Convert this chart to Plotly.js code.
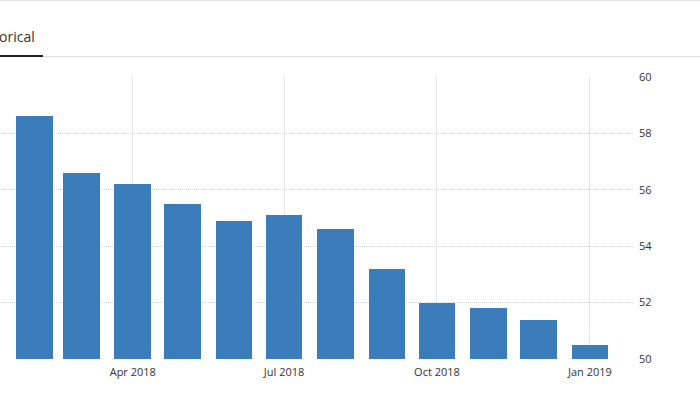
<!DOCTYPE html>
<html>
<head>
<meta charset="utf-8">
<script src="https://cdn.plot.ly/plotly-3.0.1.min.js"></script>
<style>
html,body{margin:0;padding:0;background:#fff;overflow:hidden;}
#chart{width:700px;height:394px;}
</style>
</head>
<body>
<div id="chart"></div>
<script>
var months = ['2018-02-01','2018-03-01','2018-04-01','2018-05-01','2018-06-01','2018-07-01',
              '2018-08-01','2018-09-01','2018-10-01','2018-11-01','2018-12-01','2019-01-01'];
var values = [58.6, 56.6, 56.2, 55.5, 54.9, 55.1, 54.6, 53.2, 52.0, 51.8, 51.4, 50.5];
var tickVals = ['2018-04-01','2018-07-01','2018-10-01','2019-01-01'];
var tickText = ['Apr 2018','Jul 2018','Oct 2018','Jan 2019'];
var yTicks = [50, 52, 54, 56, 58, 60];
var tabLabel = 'orical';

var DAY = 86400000;
var W = 700, H = 394;
var mL = 0, mR = 67, mT = 77, mB = 35;
var pw = W - mL - mR, ph = H - mT - mB;
function px2x(px){ return (px - mL) / pw; }
function px2y(py){ return (H - mB - py) / ph; }

var trace = {
  type: 'bar',
  x: months,
  y: values,
  width: months.map(function(){ return 22 * DAY; }),
  marker: {color: '#3a7dba', line: {width: 0}},
  hoverinfo: 'x+y'
};

var layout = {
  width: W, height: H,
  margin: {l: mL, r: mR, t: mT, b: mB, pad: 0},
  paper_bgcolor: '#ffffff',
  plot_bgcolor: '#ffffff',
  showlegend: false,
  bargap: 0,
  font: {family: '"Open Sans", "DejaVu Sans", sans-serif', size: 11, color: '#333'},
  xaxis: {
    type: 'date',
    range: ['2018-01-11 03:00', '2019-01-26 22:00'],
    tickmode: 'array',
    tickvals: tickVals,
    ticktext: tickText,
    ticks: '',
    showgrid: true,
    gridcolor: '#e6e6e6',
    gridwidth: 1,
    zeroline: false,
    showline: false,
    ticklabelstandoff: 5,
    tickfont: {size: 11, color: '#333'},
    fixedrange: true
  },
  yaxis: {
    side: 'right',
    range: [50, 60],
    tickmode: 'array',
    tickvals: yTicks,
    ticks: '',
    showgrid: true,
    gridcolor: '#d4d4d4',
    griddash: '1px,1px',
    gridwidth: 1,
    zeroline: false,
    showline: false,
    ticklabelstandoff: 5,
    tickfont: {size: 11, color: '#333'},
    fixedrange: true
  },
  shapes: [
    {type: 'line', xref: 'paper', yref: 'paper', x0: px2x(0), x1: px2x(700), y0: px2y(0.5), y1: px2y(0.5),
     line: {color: '#e4e4e4', width: 1}},
    {type: 'line', xref: 'paper', yref: 'paper', x0: px2x(0), x1: px2x(700), y0: px2y(56.5), y1: px2y(56.5),
     line: {color: '#e0e0e0', width: 1}},
    {type: 'line', xref: 'paper', yref: 'paper', x0: px2x(0), x1: px2x(43), y0: px2y(56), y1: px2y(56),
     line: {color: '#222222', width: 2}}
  ],
  annotations: [
    {xref: 'paper', yref: 'paper', x: px2x(-2), y: px2y(36), xanchor: 'left', yanchor: 'middle',
     text: tabLabel, showarrow: false, font: {size: 14, color: '#333'}, borderpad: 0}
  ]
};

Plotly.newPlot('chart', [trace], layout, {displayModeBar: false, staticPlot: true});
</script>
</body>
</html>
